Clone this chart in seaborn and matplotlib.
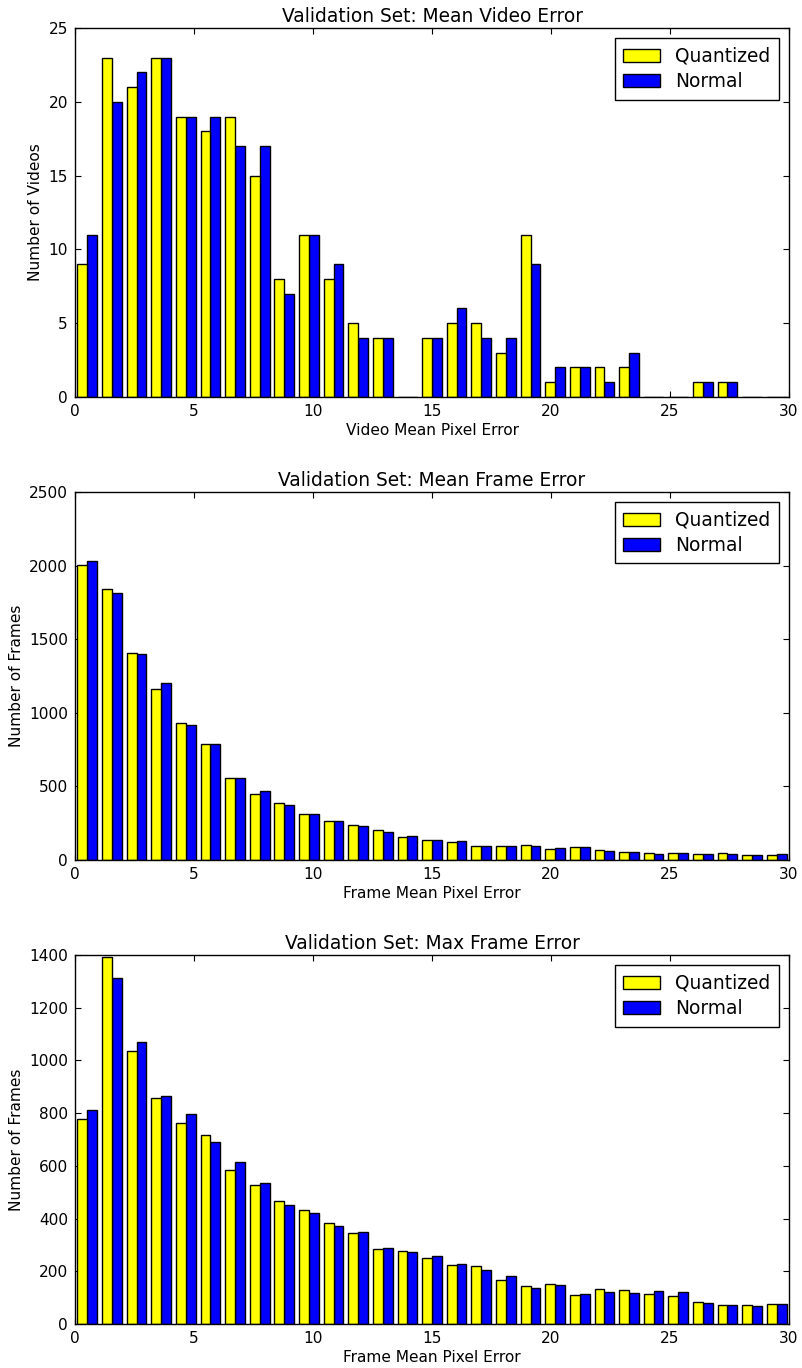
import numpy as np
import pandas as pd
import matplotlib
matplotlib.use("Agg")
import matplotlib.pyplot as plt
import seaborn as sns
from matplotlib.patches import Patch

# ---- data ----
x_min, x_max, n_bins = 0, 30, 29
series_names = ["Quantized", "Normal"]
series_colors = ["yellow", "blue"]

video_quantized = [9, 23, 21, 23, 19, 18, 19, 15, 8, 11, 8, 5, 4, 0, 4, 5, 5, 3, 11, 1, 2, 2, 2, 0, 0, 1, 1, 0, 0]
video_normal = [11, 20, 22, 23, 19, 19, 17, 17, 7, 11, 9, 4, 4, 0, 4, 6, 4, 4, 9, 2, 2, 1, 3, 0, 0, 1, 1, 0, 0]

meanframe_quantized = [2005, 1844, 1404, 1164, 931, 789, 558, 452, 387, 316, 262, 237, 201, 158, 138, 124, 97, 95, 99, 75, 86, 70, 54, 45, 45, 41, 47, 36, 32]
meanframe_normal = [2030, 1817, 1397, 1205, 918, 791, 554, 472, 377, 312, 262, 233, 192, 165, 133, 131, 97, 97, 93, 84, 90, 63, 54, 43, 50, 41, 43, 32, 38]

maxframe_quantized = [777, 1391, 1035, 856, 763, 716, 586, 527, 468, 433, 382, 346, 286, 278, 252, 222, 220, 167, 143, 150, 111, 132, 128, 115, 106, 85, 71, 72, 75]
maxframe_normal = [811, 1311, 1068, 865, 795, 689, 616, 534, 453, 420, 370, 349, 287, 273, 257, 227, 206, 182, 135, 147, 115, 120, 118, 124, 123, 78, 73, 68, 75]

panels = [
    ("Validation Set: Mean Video Error", "Video Mean Pixel Error", "Number of Videos",
     video_quantized, video_normal, 25, 5),
    ("Validation Set: Mean Frame Error", "Frame Mean Pixel Error", "Number of Frames",
     meanframe_quantized, meanframe_normal, 2500, 500),
    ("Validation Set: Max Frame Error", "Frame Mean Pixel Error", "Number of Frames",
     maxframe_quantized, maxframe_normal, 1400, 200),
]

# ---- style ----
sns.set_style("ticks")
plt.rcParams.update({
    "font.family": ["DejaVu Sans"],
    "text.color": "black",
    "axes.labelcolor": "black",
    "xtick.direction": "in",
    "ytick.direction": "in",
    "xtick.top": True,
    "ytick.right": True,
    "xtick.major.size": 4.5,
    "ytick.major.size": 4.5,
    "xtick.major.pad": 5,
    "ytick.major.pad": 5,
    "xtick.color": "black",
    "ytick.color": "black",
    "axes.edgecolor": "black",
    "axes.linewidth": 1.0,
    "xtick.labelsize": 11.1,
    "ytick.labelsize": 11.1,
    "axes.labelsize": 11.1,
    "axes.titlesize": 13.4,
})

fig = plt.figure(figsize=(8.03, 13.68), dpi=100)
positions = [
    [0.0934, 0.7098, 0.8892, 0.2697],
    [0.0934, 0.3713, 0.8892, 0.2691],
    [0.0934, 0.0322, 0.8892, 0.2697],
]

edges = np.linspace(x_min, x_max, n_bins + 1)
centers = (edges[:-1] + edges[1:]) / 2

for pos, (title, xlabel, ylabel, q, n, ymax, ystep) in zip(positions, panels):
    ax = fig.add_axes(pos)
    df = pd.DataFrame({
        "x": np.concatenate([centers, centers]),
        "count": np.concatenate([q, n]).astype(float),
        "series": [series_names[0]] * len(centers) + [series_names[1]] * len(centers),
    })
    sns.histplot(data=df, x="x", weights="count", hue="series", hue_order=series_names,
                 bins=n_bins, binrange=(x_min, x_max), multiple="dodge", shrink=0.8,
                 palette=series_colors, alpha=1, edgecolor="black", linewidth=1.0,
                 legend=False, ax=ax)
    ax.set_xlim(0, 30)
    ax.set_ylim(0, ymax)
    ax.set_xticks(np.arange(0, 31, 5))
    ax.set_yticks(np.arange(0, ymax + 1, ystep))
    ax.set_title(title, pad=4, color="black")
    ax.set_xlabel(xlabel, labelpad=3, color="black")
    ax.set_ylabel(ylabel, color="black")
    handles = [Patch(facecolor=c, edgecolor="black", label=s) for s, c in zip(series_names, series_colors)]
    leg = ax.legend(handles=handles, loc="upper right", fontsize=13.4, fancybox=False,
                    framealpha=1, edgecolor="black", borderaxespad=0.55,
                    handlelength=2.0, handletextpad=0.8, labelspacing=0.35,
                    borderpad=0.45)
    leg.get_frame().set_linewidth(1.0)
    for t in leg.get_texts():
        t.set_color("black")
    for sp in ax.spines.values():
        sp.set_visible(True)

fig.savefig("out.png", dpi=100)
